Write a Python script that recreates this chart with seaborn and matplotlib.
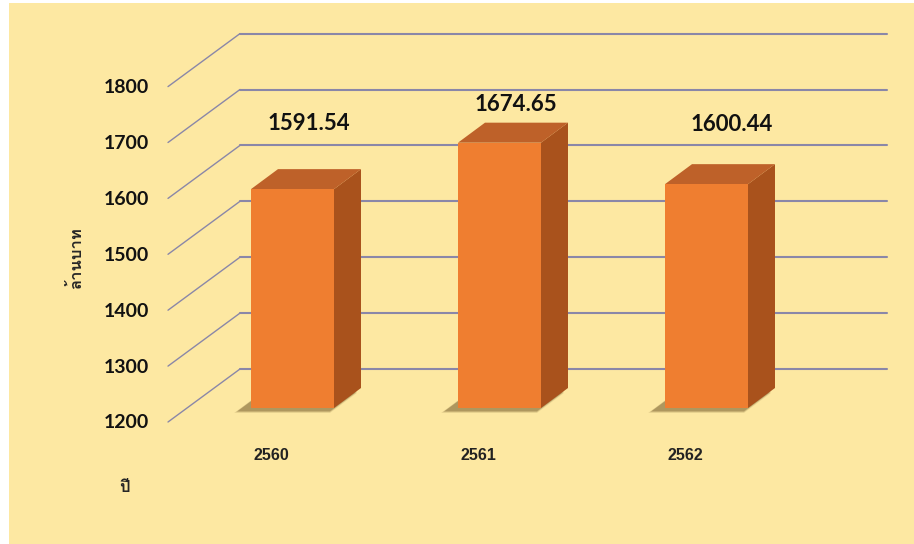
import pandas as pd
import seaborn as sns
import matplotlib.pyplot as plt
from matplotlib.patches import Polygon, Rectangle
from matplotlib import font_manager as fm
from fontTools.ttLib import TTFont

# data
years = ["2560", "2561", "2562"]
values = [1591.54, 1674.65, 1600.44]
yticks = [1200, 1300, 1400, 1500, 1600, 1700, 1800]
ylabel = "ล้านบาท"
xlabel = "ปี"

# label nudges (pixels) for the value labels
label_dx = [16, 16, 25]
label_dy = [66, 38, 60]


def thai_family():
    # find any installed font that has Thai glyphs
    seen = set()
    for f in fm.fontManager.ttflist:
        if f.fname in seen:
            continue
        seen.add(f.fname)
        try:
            if 0x0E25 in TTFont(f.fname, fontNumber=0, lazy=True).getBestCmap():
                return f.name
        except Exception:
            pass
    return "DejaVu Sans"


sns.set_theme(style="white")
THAI = thai_family()
plt.rcParams["font.family"] = ["Lato", THAI, "DejaVu Sans"]

BG = "#FDE8A2"
GRID = "#8A87A8"
FRONT = "#EF7E30"
SIDE = "#A9521C"
TOP = "#BE6129"

BASE = 1200
SX = 207.0     # px per category
SY = 0.559     # px per value unit

fig = plt.figure(figsize=(9.14, 5.44), dpi=100, facecolor="white")
fig.add_artist(Rectangle((9 / 914, 0), 1, 541 / 544, transform=fig.transFigure,
                         facecolor=BG, edgecolor="none", zorder=-10))
ax = fig.add_axes([0, 0, 1, 1])


def px(dx, dy):
    return dx / SX, dy / SY


df = pd.DataFrame({"year": years, "value": values})
df["height"] = df["value"] - BASE
sns.barplot(data=df, x="year", y="height", bottom=BASE, width=83 / SX,
            color=FRONT, saturation=1, errorbar=None, ax=ax, zorder=4,
            edgecolor="none", linewidth=0)

ax.set_xlim(-292.5 / SX, (914 - 292.5) / SX)
ax.set_ylim(BASE - 136 / SY, BASE + 408 / SY)
ax.set_axis_off()

# back wall + slanted left wall lines
xf = (168 - 292.5) / SX
xb0 = (240 - 292.5) / SX
xb1 = (887 - 292.5) / SX
for t in yticks:
    yb = t + 39 / SY
    yf = t - 14 / SY
    ax.plot([xf, xb0], [yf, yb], color=GRID, lw=1.0, zorder=1)
    ax.plot([xb0, xb1], [yb, yb], color=GRID, lw=1.5, zorder=1)
    ax.text((149 - 292.5) / SX, t - 15 / SY, str(t), ha="right", va="center",
            fontsize=14, fontweight="bold", color="#111111")

# 3d faces on top of the seaborn bars
ddx, ddy = px(27, 20)
for i, (bar, v) in enumerate(zip(list(ax.patches), values)):
    x0 = bar.get_x()
    x1 = x0 + bar.get_width()
    # soft floor shadow, pushed to the left and slightly down
    for k, a in enumerate([0.08, 0.10, 0.14, 0.20]):
        g = 4 - k * 1.2
        sx, sy = px(13 + g, 3 + g * 0.5)
        ax.add_patch(Polygon([(x0 - sx, BASE - sy), (x1 - 4 / SX, BASE - sy),
                              (x1 + ddx - 4 / SX, BASE + ddy - sy),
                              (x0 - sx + ddx, BASE + ddy - sy)],
                             closed=True, facecolor="#4a3008", alpha=a, lw=0, zorder=2))
    ax.add_patch(Polygon([(x1, BASE), (x1 + ddx, BASE + ddy), (x1 + ddx, v + ddy), (x1, v)],
                         closed=True, facecolor=SIDE, lw=0, zorder=3))
    ax.add_patch(Polygon([(x0, v), (x0 + ddx, v + ddy), (x1 + ddx, v + ddy), (x1, v)],
                         closed=True, facecolor=TOP, lw=0, zorder=3))
    cx = x0 + bar.get_width() / 2
    lx, ly = px(label_dx[i], label_dy[i])
    ax.text(cx + lx, v + ly, f"{v:.2f}", ha="center", va="center",
            fontsize=16, fontweight="bold", color="#111111", zorder=6)
    tx, ty = px(-21, -47)
    ax.text(i + tx, BASE + ty, years[i], ha="center", va="center",
            fontsize=11.5, fontweight="bold", color="#222222",
            family=["Liberation Sans", "DejaVu Sans"])

fig.text(76 / 914, 1 - 258 / 544, ylabel, rotation=90, ha="center", va="center",
         fontsize=12, fontweight="bold", family=[THAI, "DejaVu Sans"])
fig.text(125 / 914, 1 - 488 / 544, xlabel, ha="center", va="center",
         fontsize=12, fontweight="bold", family=[THAI, "DejaVu Sans"])

fig.savefig("out.png", dpi=100, facecolor=fig.get_facecolor())
